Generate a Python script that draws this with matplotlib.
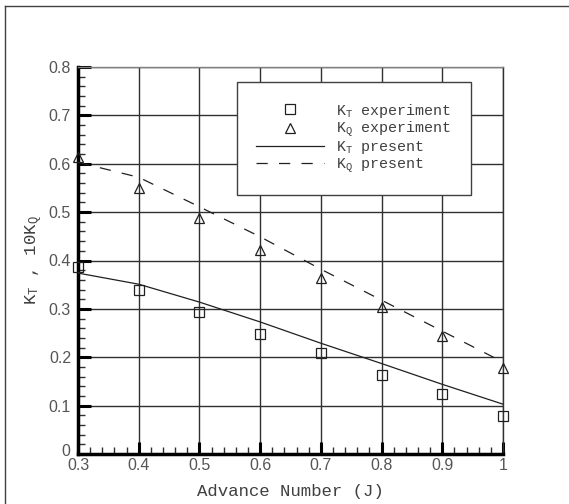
import matplotlib
matplotlib.use('Agg')
import matplotlib.pyplot as plt
import matplotlib.transforms as mtransforms
from matplotlib.lines import Line2D
from matplotlib.ticker import MultipleLocator

# Experimental data
J_exp = [0.3, 0.4, 0.5, 0.6, 0.7, 0.8, 0.9, 1.0]
kt_exp = [0.386, 0.339, 0.294, 0.248, 0.209, 0.163, 0.124, 0.079]
kq_exp = [0.614, 0.550, 0.488, 0.422, 0.363, 0.303, 0.243, 0.178]

# Present (computed) results
J_pres = [0.3, 0.4, 0.5, 0.6, 0.7, 0.8, 0.9, 1.0]
kt_pres = [0.374, 0.351, 0.314, 0.273, 0.229, 0.187, 0.144, 0.103]
kq_pres = [0.603, 0.572, 0.511, 0.449, 0.382, 0.318, 0.254, 0.190]

x_ticks = [0.3, 0.4, 0.5, 0.6, 0.7, 0.8, 0.9, 1.0]
x_ticklabels = ['0.3', '0.4', '0.5', '0.6', '0.7', '0.8', '0.9', '1']
y_ticks = [0, 0.1, 0.2, 0.3, 0.4, 0.5, 0.6, 0.7, 0.8]
y_ticklabels = ['0', '0.1', '0.2', '0.3', '0.4', '0.5', '0.6', '0.7', '0.8']

plt.rcParams['font.family'] = 'Liberation Mono'
plt.rcParams['mathtext.fontset'] = 'custom'
plt.rcParams['mathtext.rm'] = 'Liberation Mono'
plt.rcParams['mathtext.it'] = 'Liberation Mono'

fig = plt.figure(figsize=(5.69, 5.04), dpi=100)
fig.patch.set_facecolor('white')
ax = fig.add_axes([78 / 569, 1 - 454 / 504, 425 / 569, 387 / 504])

# outer frame lines (top and left)
fig.add_artist(Line2D([5 / 569, 1.0], [1 - 6 / 504, 1 - 6 / 504], color='#404040', lw=1))
fig.add_artist(Line2D([5 / 569, 5 / 569], [0.0, 1 - 6 / 504], color='#404040', lw=1))

ax.set_xlim(0.3, 1.0)
ax.set_ylim(0, 0.8)

ax.grid(True, which='major', color='#303030', linewidth=1)
ax.set_axisbelow(True)

ax.plot(J_exp, kt_exp, linestyle='none', marker='s', markersize=7,
        markerfacecolor='none', markeredgecolor='#202020', markeredgewidth=0.9,
        label=r'$\mathrm{K_T}$ experiment', zorder=3, clip_on=False)
ax.plot(J_exp, kq_exp, linestyle='none', marker='^', markersize=7,
        markerfacecolor='none', markeredgecolor='#202020', markeredgewidth=0.9,
        label=r'$\mathrm{K_Q}$ experiment', zorder=3, clip_on=False)
ax.plot(J_pres, kt_pres, color='#202020', linewidth=0.9,
        label=r'$\mathrm{K_T}$ present', zorder=3)
ax.plot(J_pres, kq_pres, color='#202020', linewidth=0.9, dashes=(9, 9),
        label=r'$\mathrm{K_Q}$ present', zorder=3)

ax.set_xticks(x_ticks)
ax.set_xticklabels(x_ticklabels)
ax.set_yticks(y_ticks)
ax.set_yticklabels(y_ticklabels)
ax.xaxis.set_minor_locator(MultipleLocator(0.02))
ax.yaxis.set_minor_locator(MultipleLocator(0.02))
ax.tick_params(which='major', direction='in', length=9, width=2.2, color='black',
               labelsize=11.5, labelcolor='#555555')
ax.tick_params(axis='x', which='major', pad=3)
ax.tick_params(axis='y', which='major', pad=5)
ax.tick_params(which='minor', direction='in', length=5, width=1, color='#303030')
for lab in ax.get_xticklabels() + ax.get_yticklabels():
    lab.set_family('Liberation Sans')

# nudge the "0" label up a little so it does not sit on top of "0.3"
zero_lab = ax.get_yticklabels()[0]
zero_lab.set_transform(zero_lab.get_transform() +
                       mtransforms.ScaledTranslation(-1 / 100, 4 / 100, fig.dpi_scale_trans))

ax.spines['left'].set_linewidth(2.5)
ax.spines['bottom'].set_linewidth(2.5)
ax.spines['top'].set_linewidth(1)
ax.spines['top'].set_color('#808080')
ax.spines['right'].set_linewidth(1)
ax.spines['right'].set_color('#303030')

ax.set_xlabel('Advance Number (J)', fontsize=12.5, color='#404040', labelpad=8)
ax.set_ylabel(r'$\mathrm{K_T}$ , 10$\mathrm{K_Q}$', fontsize=12.5, color='#404040', labelpad=3)

leg = ax.legend(loc='upper left', bbox_to_anchor=(0.374, 0.961), borderaxespad=0,
                fontsize=10.8, handlelength=4.5, handletextpad=0.8,
                borderpad=1.3, labelspacing=0.02, fancybox=False, framealpha=1,
                edgecolor='#404040')
leg.get_frame().set_linewidth(1)
for t in leg.get_texts():
    t.set_color('#404040')

fig.savefig('out.png', dpi=100, facecolor='white')
